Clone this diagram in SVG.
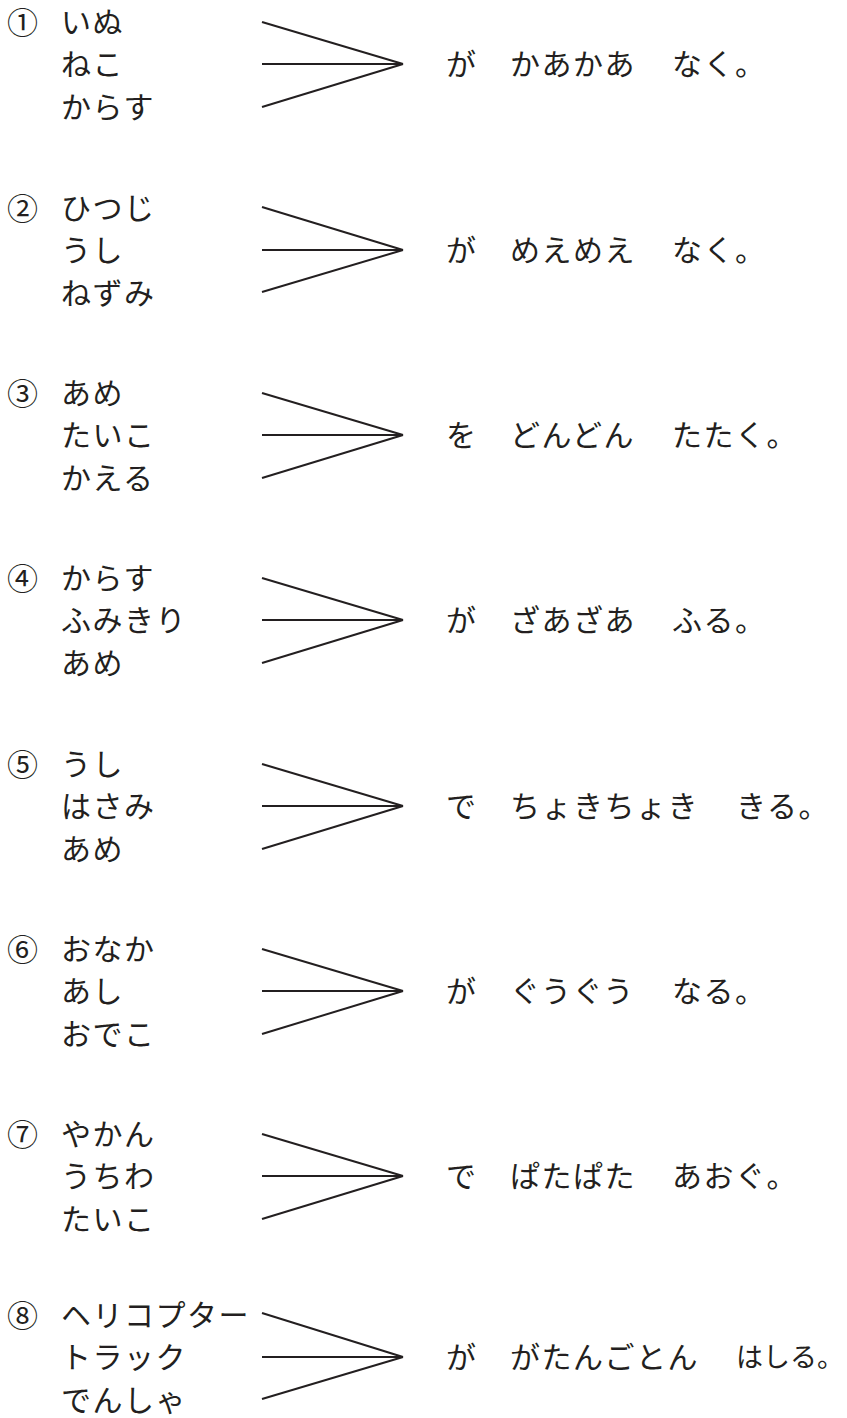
<svg xmlns="http://www.w3.org/2000/svg" width="847" height="1418" viewBox="0 0 847 1418">
<style>
text{font-family:"Noto Sans CJK JP","Noto Sans CJK SC",sans-serif;font-size:30px;fill:#231f20;letter-spacing:1.5px}
.num{letter-spacing:0;font-size:31px}
line{stroke:#231f20;stroke-width:2;stroke-linecap:butt}
</style>
<rect width="847" height="1418" fill="#fff"/>
<g id="block1-left"><text class="num" x="7" y="34">①</text><text x="61" y="33">いぬ</text><text x="61" y="75">ねこ</text><text x="61" y="118">からす</text></g>
<g id="block1-right"><text y="75"><tspan x="446">が</tspan><tspan x="510">かあかあ</tspan><tspan x="672">なく。</tspan></text></g>
<g id="block2-left"><text class="num" x="7" y="220">②</text><text x="61" y="219">ひつじ</text><text x="61" y="261">うし</text><text x="61" y="304">ねずみ</text></g>
<g id="block2-right"><text y="261"><tspan x="446">が</tspan><tspan x="510">めえめえ</tspan><tspan x="672">なく。</tspan></text></g>
<g id="block3-left"><text class="num" x="7" y="405">③</text><text x="61" y="404">あめ</text><text x="61" y="446">たいこ</text><text x="61" y="489">かえる</text></g>
<g id="block3-right"><text y="446"><tspan x="446">を</tspan><tspan x="510">どんどん</tspan><tspan x="672">たたく。</tspan></text></g>
<g id="block4-left"><text class="num" x="7" y="590">④</text><text x="61" y="589">からす</text><text x="61" y="631">ふみきり</text><text x="61" y="674">あめ</text></g>
<g id="block4-right"><text y="631"><tspan x="446">が</tspan><tspan x="510">ざあざあ</tspan><tspan x="672">ふる。</tspan></text></g>
<g id="block5-left"><text class="num" x="7" y="776">⑤</text><text x="61" y="775">うし</text><text x="61" y="817">はさみ</text><text x="61" y="860">あめ</text></g>
<g id="block5-right"><text y="817"><tspan x="446">で</tspan><tspan x="510">ちょきちょき</tspan><tspan x="736">きる。</tspan></text></g>
<g id="block6-left"><text class="num" x="7" y="961">⑥</text><text x="61" y="960">おなか</text><text x="61" y="1002">あし</text><text x="61" y="1045">おでこ</text></g>
<g id="block6-right"><text y="1002"><tspan x="446">が</tspan><tspan x="510">ぐうぐう</tspan><tspan x="672">なる。</tspan></text></g>
<g id="block7-left"><text class="num" x="7" y="1146">⑦</text><text x="61" y="1145">やかん</text><text x="61" y="1187">うちわ</text><text x="61" y="1230">たいこ</text></g>
<g id="block7-right"><text y="1187"><tspan x="446">で</tspan><tspan x="510">ぱたぱた</tspan><tspan x="672">あおぐ。</tspan></text></g>
<g id="block8-left"><text class="num" x="7" y="1327">⑧</text><text x="61" y="1326">ヘリコプター</text><text x="61" y="1368">トラック</text><text x="61" y="1411">でんしゃ</text></g>
<g id="block8-right"><text y="1368"><tspan x="446">が</tspan><tspan x="510">がたんごとん</tspan></text><text x="736" y="1367" style="letter-spacing:0;font-size:27px">はしる。</text></g>
<g id="connectors">
<line x1="262" y1="22" x2="403" y2="64"/><line x1="262" y1="64" x2="403" y2="64"/><line x1="262" y1="107" x2="403" y2="64"/>
<line x1="262" y1="207" x2="403" y2="250"/><line x1="262" y1="250" x2="403" y2="250"/><line x1="262" y1="292" x2="403" y2="250"/>
<line x1="262" y1="393" x2="403" y2="435"/><line x1="262" y1="435" x2="403" y2="435"/><line x1="262" y1="478" x2="403" y2="435"/>
<line x1="262" y1="578" x2="403" y2="620"/><line x1="262" y1="620" x2="403" y2="620"/><line x1="262" y1="663" x2="403" y2="620"/>
<line x1="262" y1="764" x2="403" y2="806"/><line x1="262" y1="806" x2="403" y2="806"/><line x1="262" y1="849" x2="403" y2="806"/>
<line x1="262" y1="949" x2="403" y2="991"/><line x1="262" y1="991" x2="403" y2="991"/><line x1="262" y1="1034" x2="403" y2="991"/>
<line x1="262" y1="1134" x2="403" y2="1176"/><line x1="262" y1="1176" x2="403" y2="1176"/><line x1="262" y1="1219" x2="403" y2="1176"/>
<line x1="262" y1="1313" x2="403" y2="1357"/><line x1="262" y1="1357" x2="403" y2="1357"/><line x1="262" y1="1399" x2="403" y2="1357"/>
</g>
</svg>
